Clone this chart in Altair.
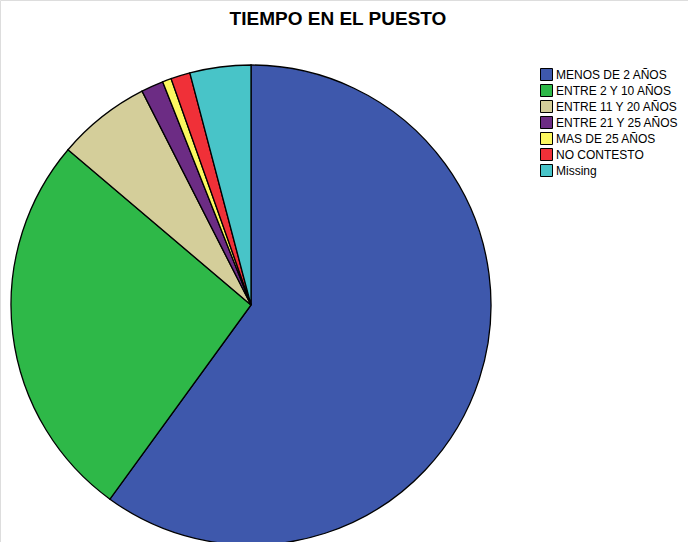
import altair as alt
import pandas as pd

categories = ["MENOS DE 2 AÑOS", "ENTRE 2 Y 10 AÑOS", "ENTRE 11 Y 20 AÑOS",
              "ENTRE 21 Y 25 AÑOS", "MAS DE 25 AÑOS", "NO CONTESTO", "Missing"]
percents = [60.0, 26.2, 6.3, 1.5, 0.6, 1.3, 4.1]
colors = ["#3E58AC", "#2EB848", "#D4CE9A", "#6C2C84", "#FCF860", "#F03038", "#48C4C8"]
title_text = "TIEMPO EN EL PUESTO"

df = pd.DataFrame({"cat": categories, "pct": percents, "ord": list(range(len(categories)))})

pie = alt.Chart(df).mark_arc(radius=240, stroke="black", strokeWidth=1.3).encode(
    theta=alt.Theta("pct:Q", stack=True),
    order=alt.Order("ord:Q"),
    x=alt.value(251),
    y=alt.value(305),
    color=alt.Color(
        "cat:N",
        sort=categories,
        scale=alt.Scale(domain=categories, range=colors),
        legend=alt.Legend(
            title=None,
            orient="none",
            legendX=540,
            legendY=68,
            symbolType="square",
            symbolSize=144,
            symbolStrokeColor="black",
            symbolStrokeWidth=1,
            symbolOpacity=1,
            labelFont="Liberation Sans",
            labelFontSize=12,
            labelColor="black",
            rowPadding=-1,
            labelOffset=3,
        ),
    ),
)

title = alt.Chart(pd.DataFrame({"t": [title_text]})).mark_text(
    font="Liberation Sans", fontSize=19, fontWeight="bold", color="black",
    align="center", baseline="middle"
).encode(text="t:N", x=alt.value(338), y=alt.value(19))

chart = alt.layer(pie, title).properties(
    width=688, height=542,
    autosize=alt.AutoSizeParams(type="none"),
    padding=0,
).configure_view(stroke=None).configure(background="white")

chart.save("out.html", embed_options={"renderer": "svg", "actions": False})
